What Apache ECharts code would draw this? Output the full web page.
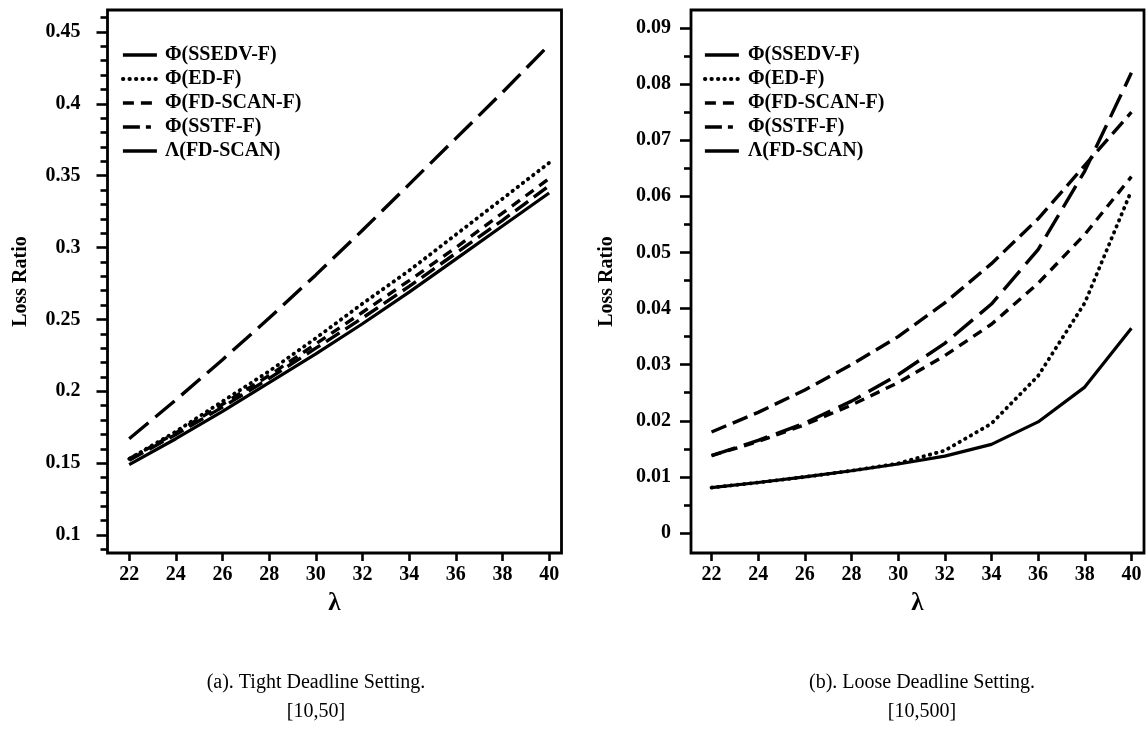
<!DOCTYPE html>
<html>
<head>
<meta charset="utf-8">
<script src="https://cdn.jsdelivr.net/npm/echarts@6/dist/echarts.min.js"></script>
<style>
  html, body { margin: 0; padding: 0; background: #ffffff; }
  #chart { width: 1146px; height: 733px; }
</style>
</head>
<body>
<div id="chart"></div>
<script>
// Arrival rate values on the horizontal axis
const lambdas = [22, 24, 26, 28, 30, 32, 34, 36, 38, 40];

// Series names (legend order)
const seriesNames = ['Φ(SSEDV-F)', 'Φ(ED-F)', 'Φ(FD-SCAN-F)', 'Φ(SSTF-F)', 'Λ(FD-SCAN)'];

// (a) Tight deadline setting [10,50] — loss ratio
const tightSSEDV   = [0.149, 0.167, 0.186, 0.206, 0.226, 0.247, 0.269, 0.292, 0.315, 0.338];
const tightED      = [0.153, 0.172, 0.193, 0.214, 0.237, 0.261, 0.284, 0.309, 0.334, 0.359];
const tightFDSCANF = [0.153, 0.171, 0.191, 0.211, 0.233, 0.255, 0.277, 0.300, 0.324, 0.348];
const tightSSTF    = [0.152, 0.170, 0.189, 0.209, 0.230, 0.251, 0.273, 0.296, 0.319, 0.343];
const tightFDSCAN  = [0.167, 0.194, 0.222, 0.251, 0.281, 0.312, 0.344, 0.376, 0.408, 0.441];

// (b) Loose deadline setting [10,500] — loss ratio
const looseSSEDV   = [0.0081, 0.0090, 0.0100, 0.0111, 0.0123, 0.0137, 0.0158, 0.0198, 0.0260, 0.0365];
const looseED      = [0.0081, 0.0090, 0.0100, 0.0111, 0.0124, 0.0147, 0.0195, 0.0280, 0.0410, 0.0610];
const looseFDSCANF = [0.0138, 0.0163, 0.0193, 0.0228, 0.0268, 0.0316, 0.0372, 0.0445, 0.0532, 0.0635];
const looseSSTF    = [0.0180, 0.0215, 0.0255, 0.0300, 0.0350, 0.0410, 0.0480, 0.0560, 0.0655, 0.0750];
const looseFDSCAN  = [0.0138, 0.0165, 0.0196, 0.0235, 0.0282, 0.0338, 0.0408, 0.0505, 0.0645, 0.0820];

// Tick values
const xTicks = [22, 24, 26, 28, 30, 32, 34, 36, 38, 40];
const yTicksA = [0.1, 0.15, 0.2, 0.25, 0.3, 0.35, 0.4, 0.45];
const yMinorA = [0.09, 0.11, 0.12, 0.13, 0.14, 0.16, 0.17, 0.18, 0.19, 0.21, 0.22, 0.23, 0.24,
                 0.26, 0.27, 0.28, 0.29, 0.31, 0.32, 0.33, 0.34, 0.36, 0.37, 0.38, 0.39,
                 0.41, 0.42, 0.43, 0.44, 0.46];
const yTicksB = [0, 0.01, 0.02, 0.03, 0.04, 0.05, 0.06, 0.07, 0.08, 0.09];
const yMinorB = [0.005, 0.015, 0.025, 0.035, 0.045, 0.055, 0.065, 0.075, 0.085];

// Caption text under each panel
const captions = [
  ['(a). Tight Deadline Setting.', '[10,50]'],
  ['(b). Loose Deadline Setting.', '[10,500]']
];

const FONT = '"Liberation Serif", "Times New Roman", serif';
const INK = '#000000';
const CLEAR = 'rgba(0,0,0,0)';

// Line styles per series (dash pattern, width)
const styles = [
  { type: 'solid', width: 3.2, cap: 'butt' },
  { type: [0.5, 6], width: 3.8, cap: 'round' },
  { type: [10, 7], width: 3.4, cap: 'butt' },
  { type: [16, 7], width: 3.4, cap: 'butt' },
  { type: [25, 9], width: 3.4, cap: 'butt' }
];
// Legend samples
const legendStyles = [
  { type: 'solid' },
  { type: [0.5, 6], cap: 'round', width: 3.8 },
  { type: [11, 7] },
  { type: [17, 6, 5, 6] },
  { type: 'solid' }
];

const tightData = [tightSSEDV, tightED, tightFDSCANF, tightSSTF, tightFDSCAN];
const looseData = [looseSSEDV, looseED, looseFDSCANF, looseSSTF, looseFDSCAN];

function pairs(values) {
  return lambdas.map((x, i) => [x, values[i]]);
}

function makeSeries(dataSet, xIdx, yIdx) {
  return dataSet.map((vals, i) => ({
    name: seriesNames[i],
    type: 'line',
    xAxisIndex: xIdx,
    yAxisIndex: yIdx,
    data: pairs(vals),
    symbol: 'none',
    showSymbol: false,
    silent: true,
    animation: false,
    lineStyle: { color: INK, width: styles[i].width, type: styles[i].type, cap: styles[i].cap },
    itemStyle: { color: INK },
    z: 3
  }));
}

function makeLegend(left, textPad) {
  return {
    orient: 'vertical',
    left: left,
    top: 45,
    padding: 0,
    itemWidth: 34,
    itemHeight: 14,
    itemGap: 4,
    selectedMode: false,
    itemStyle: { color: CLEAR, borderColor: CLEAR, borderWidth: 0 },
    data: seriesNames.map((n, i) => ({
      name: n,
      itemStyle: { color: CLEAR, borderColor: CLEAR, borderWidth: 0 },
      lineStyle: Object.assign({ color: INK, width: 3.4 }, legendStyles[i])
    })),
    textStyle: {
      fontFamily: FONT, fontSize: 20, fontWeight: 'bold', color: INK,
      lineHeight: 20, padding: [0, 0, 0, textPad]
    }
  };
}

const labelStyle = { fontFamily: FONT, fontSize: 20, fontWeight: 'bold', color: INK };

function makeXAxis(gridIndex, min, max) {
  return {
    type: 'value', gridIndex: gridIndex, min: min, max: max,
    axisLine: { show: false, onZero: false },
    axisTick: { show: true, inside: false, length: 8, customValues: xTicks, lineStyle: { color: INK, width: 2.6 } },
    axisLabel: Object.assign({ customValues: xTicks, margin: 12 }, labelStyle),
    splitLine: { show: false },
    name: 'λ', nameLocation: 'middle', nameGap: 38,
    nameTextStyle: { fontFamily: FONT, fontSize: 25, fontWeight: 'bold', color: INK }
  };
}

function makeYAxis(gridIndex, min, max, ticks, margin, nameGap) {
  return {
    type: 'value', gridIndex: gridIndex, min: min, max: max, position: 'left',
    axisLine: { show: false, onZero: false },
    axisTick: { show: true, inside: false, length: 11, customValues: ticks, lineStyle: { color: INK, width: 2.6 } },
    axisLabel: Object.assign({ customValues: ticks, margin: margin, formatter: v => String(+v.toFixed(2)) }, labelStyle),
    splitLine: { show: false },
    name: 'Loss Ratio', nameLocation: 'middle', nameGap: nameGap, nameRotate: 90,
    nameTextStyle: { fontFamily: FONT, fontSize: 20, fontWeight: 'bold', color: INK }
  };
}

function makeMinorYAxis(gridIndex, min, max, ticks) {
  return {
    type: 'value', gridIndex: gridIndex, min: min, max: max, position: 'left',
    axisLine: { show: false, onZero: false },
    axisTick: { show: true, inside: false, length: 7, customValues: ticks, lineStyle: { color: INK, width: 2.6 } },
    axisLabel: { show: false },
    splitLine: { show: false }
  };
}

const gridStyle = { show: true, borderColor: INK, borderWidth: 2.8, backgroundColor: 'transparent', containLabel: false };

function captionText(x, y, text) {
  return {
    type: 'text', x: x, y: y, silent: true,
    style: { text: text, fill: INK, font: '20px ' + FONT, textAlign: 'center', textVerticalAlign: 'middle' }
  };
}

const option = {
  backgroundColor: '#ffffff',
  animation: false,
  grid: [
    Object.assign({ left: 107.5, top: 10, width: 454, height: 543 }, gridStyle),
    Object.assign({ left: 691, top: 10, width: 453, height: 543 }, gridStyle)
  ],
  legend: [makeLegend(121, 3), makeLegend(703, 4)],
  xAxis: [
    makeXAxis(0, 21.07, 40.53),
    makeXAxis(1, 21.12, 40.54)
  ],
  yAxis: [
    makeYAxis(0, 0.0875, 0.4653, yTicksA, 27, 77),
    makeMinorYAxis(0, 0.0875, 0.4653, yMinorA),
    makeYAxis(1, -0.00356, 0.0932, yTicksB, 20, 74),
    makeMinorYAxis(1, -0.00356, 0.0932, yMinorB)
  ],
  series: [].concat(makeSeries(tightData, 0, 0), makeSeries(looseData, 1, 2)),
  graphic: [
    captionText(316, 683, captions[0][0]),
    captionText(316, 712, captions[0][1]),
    captionText(922, 683, captions[1][0]),
    captionText(922, 712, captions[1][1])
  ]
};

const chart = echarts.init(document.getElementById('chart'), null, { renderer: 'canvas' });
chart.setOption(option);
</script>
</body>
</html>
